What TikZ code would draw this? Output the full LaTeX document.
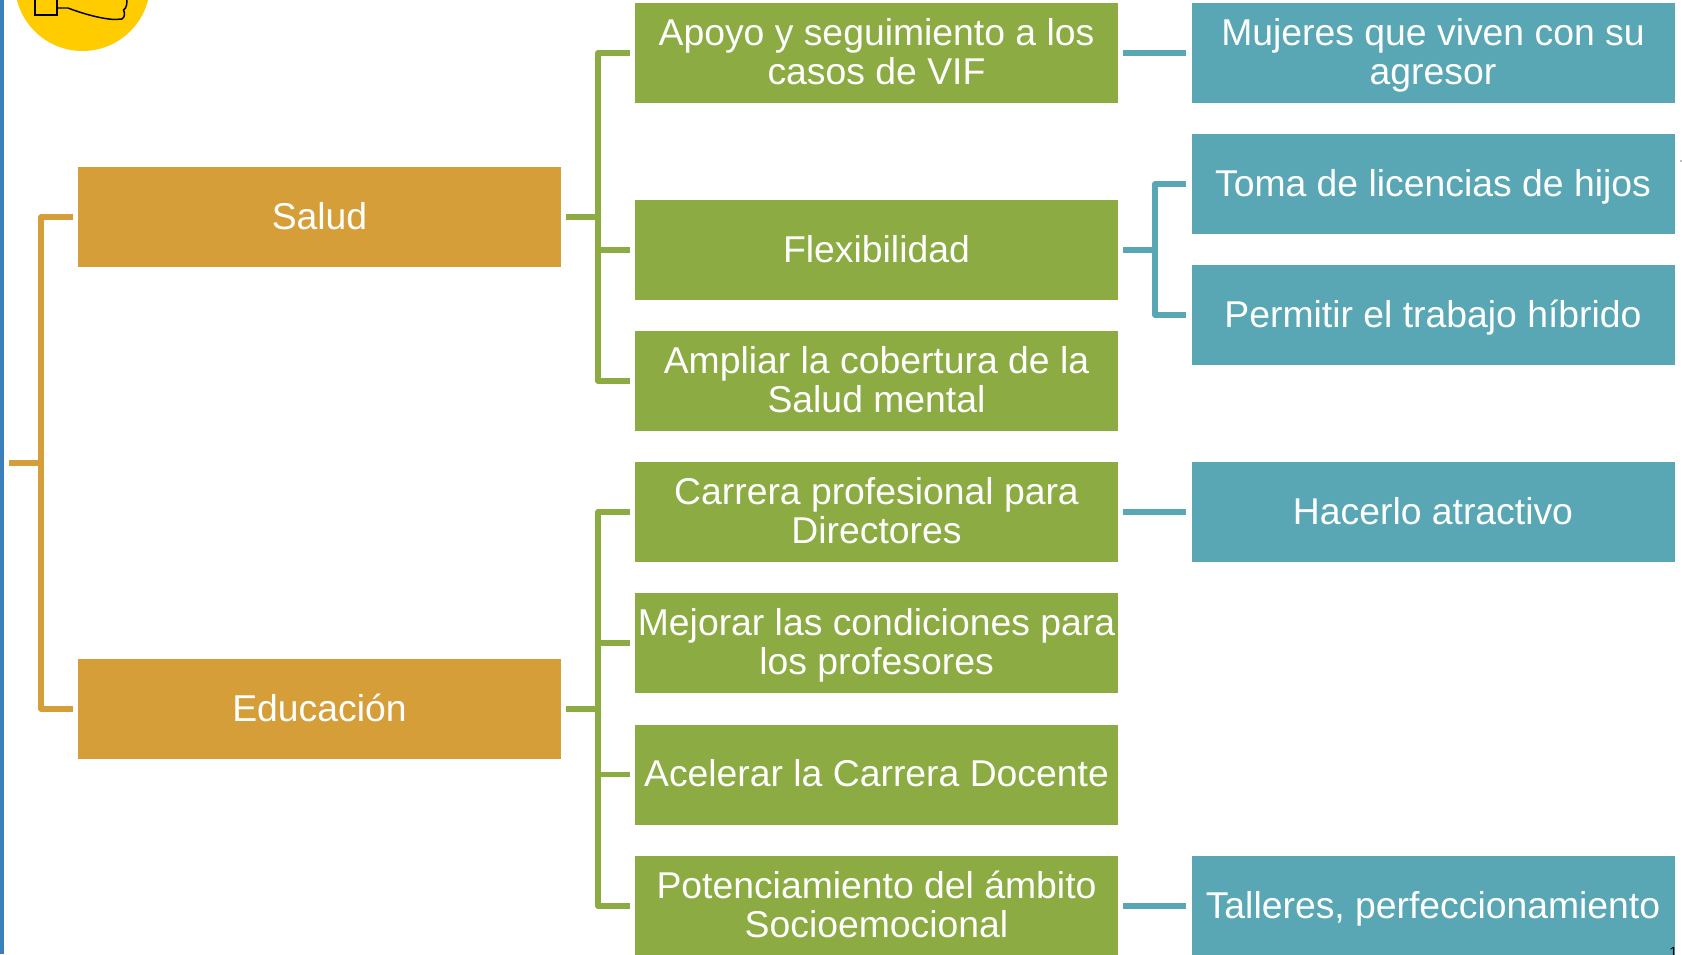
\documentclass[tikz,border=0pt]{standalone}
\usepackage{fontspec}
\setmainfont{Liberation Sans}
\usetikzlibrary{calc}
\definecolor{amber}{HTML}{D69E38}
\definecolor{leaf}{HTML}{8CAB43}
\definecolor{sea}{HTML}{59A7B5}
\definecolor{edge}{HTML}{3B80BD}
\definecolor{sun}{HTML}{FFCC00}
\newcommand{\cellstrut}{\rule[-6pt]{0pt}{30.2pt}}
\tikzset{
  cell/.style={minimum width=362.25pt,minimum height=75pt,inner sep=0pt,text=white,align=center,
    font=\fontsize{28pt}{29.25pt}\selectfont,
    execute at end node=\cellstrut},
  amberbox/.style={cell,fill=amber},
  leafbox/.style={cell,fill=leaf},
  seabox/.style={cell,fill=sea},
  link/.style={line width=4.2pt,line join=round,shorten <=3.75pt,shorten >=3.75pt},
  plainlink/.style={line width=4.2pt,line join=round},
}
\begin{document}
\begin{tikzpicture}[x=0.75pt,y=-0.75pt]
\useasboundingbox (0,0) rectangle (1682,954);
\clip (0,0) rectangle (1682,954);
\fill[white] (0,0) rectangle (1682,954);
\fill[edge] (0,0) rectangle (4,954);
\fill[gray!50] (1680,160) rectangle (1682,161.5);
% badge
\fill[sun] (82.5,-16.6) circle[radius=50.7pt];
\draw[black,line width=1.1pt] (35,-5) rectangle (57,15);
\draw[black,line width=1.1pt,line join=round] (57,8) -- (68,8) .. controls (78,12) and (100,19) .. (115,19.5) -- (122,19) .. controls (125,17) and (125,13) .. (123.5,10) .. controls (127,8) and (127,3) .. (127,-3);
% level 1
\node[amberbox] (salud) at (319.5,217) {\cellstrut Salud};
\node[amberbox] (edu) at (319.5,709) {\cellstrut Educación};
% level 2
\node[leafbox] (g1) at (876.5,53) {\cellstrut Apoyo y seguimiento a los\\casos de VIF};
\node[leafbox] (g2) at (876.5,250) {\cellstrut Flexibilidad};
\node[leafbox] (g3) at (876.5,381) {\cellstrut Ampliar la cobertura de la\\Salud mental};
\node[leafbox] (g4) at (876.5,512) {\cellstrut Carrera profesional para\\Directores};
\node[leafbox] (g5) at (876.5,643) {\cellstrut Mejorar las condiciones para\\los profesores};
\node[leafbox] (g6) at (876.5,774.5) {\cellstrut Acelerar la Carrera Docente};
\node[leafbox] (g7) at (876.5,906) {\cellstrut Potenciamiento del ámbito\\Socioemocional};
% level 3
\node[seabox] (t1) at (1433,53) {\cellstrut Mujeres que viven con su\\agresor};
\node[seabox] (t2) at (1433,184) {\cellstrut Toma de licencias de hijos};
\node[seabox] (t3) at (1433,315) {\cellstrut Permitir el trabajo híbrido};
\node[seabox] (t4) at (1433,512) {\cellstrut Hacerlo atractivo};
\node[seabox] (t7) at (1433,906) {\cellstrut Talleres, perfeccionamiento};
% page number fragment
\node[anchor=base west,inner sep=0pt,font=\fontsize{11pt}{13pt}\selectfont,text=black] (pagenum) at (1669,957.5) {1};
% spines
\coordinate (root) at (9,463);
\coordinate (rootspine) at (41,463);
\coordinate (sspine) at (598,217);
\coordinate (espine) at (598,709);
\coordinate (fspine) at (1155,250);
% connectors
\draw[plainlink,amber] (root) -- (rootspine);
\draw[link,amber] (salud.west) -- (rootspine |- salud.west) -- (rootspine |- edu.west) -- (edu.west);
\draw[link,leaf,shorten >=0pt] (salud.east) -- (sspine);
\draw[link,leaf] (g1.west) -- (sspine |- g1.west) -- (sspine |- g3.west) -- (g3.west);
\draw[link,leaf,shorten <=0pt] (sspine |- g2.west) -- (g2.west);
\draw[link,leaf,shorten >=0pt] (edu.east) -- (espine);
\draw[link,leaf] (g4.west) -- (espine |- g4.west) -- (espine |- g7.west) -- (g7.west);
\draw[link,leaf,shorten <=0pt] (espine |- g5.west) -- (g5.west);
\draw[link,leaf,shorten <=0pt] (espine |- g6.west) -- (g6.west);
\draw[link,sea] (g1.east) -- (t1.west);
\draw[link,sea] (g4.east) -- (t4.west);
\draw[link,sea] (g7.east) -- (t7.west);
\draw[link,sea,shorten >=0pt] (g2.east) -- (fspine);
\draw[link,sea] (t2.west) -- (fspine |- t2.west) -- (fspine |- t3.west) -- (t3.west);
\end{tikzpicture}
\end{document}
